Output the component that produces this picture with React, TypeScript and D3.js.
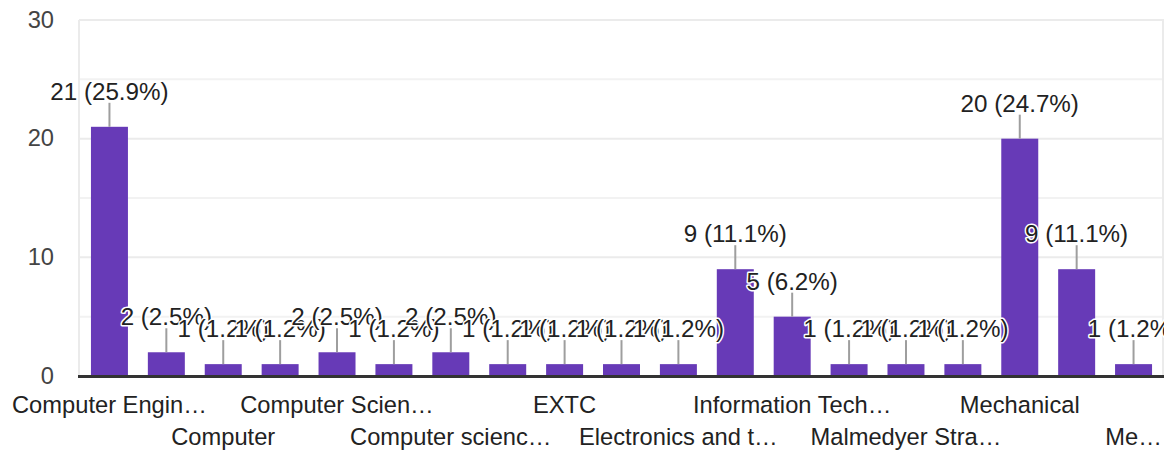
import * as d3 from "d3";

// responses per branch (sorted as in the form summary)
const categories = [
  "Computer Engineering",
  "Computer Engg",
  "Computer",
  "Computer Sci",
  "Computer Science and Engineering",
  "Computer Science",
  "Computer science engineering",
  "Data Science",
  "EXTC",
  "Electrical",
  "Electronics and telecommunication",
  "Information Technology",
  "Information Tech",
  "IT",
  "Malmedyer Strategy",
  "Mech",
  "Mechanical",
  "Mechanical Engineering",
  "Mechatronics",
];
const values = [21, 2, 1, 1, 2, 1, 2, 1, 1, 1, 1, 9, 5, 1, 1, 1, 20, 9, 1];
// only every other category gets a visible (truncated) label
const tickLabels = [
  "Computer Engin…", "", "Computer", "", "Computer Scien…", "",
  "Computer scienc…", "", "EXTC", "", "Electronics and t…", "",
  "Information Tech…", "", "Malmedyer Stra…", "", "Mechanical", "", "Me…",
];
const yTicks = [0, 10, 20, 30];
const yGrid = [5, 10, 15, 20, 25, 30];

const W = 1172;
const H = 453;
const FONT = "'Liberation Sans', Arial, sans-serif";

export default function App() {
  const total = d3.sum(values);
  const x = d3
    .scaleBand<number>()
    .domain(categories.map((_, i) => i))
    .range([81, 1162])
    .paddingInner(0.35)
    .paddingOuter(0.175);
  const y = d3.scaleLinear().domain([0, 30]).range([376, 20]);
  const plotL = 79;
  const plotR = 1164;

  return (
    <svg
      width={W}
      height={H}
      style={{ position: "absolute", left: 0, top: 0, background: "#fff" }}
      fontFamily={FONT}
    >
      <defs>
        <clipPath id="lbl-clip">
          <rect x={0} y={0} width={plotR} height={H} />
        </clipPath>
      </defs>

      {/* grid */}
      {yGrid.map((t) => (
        <line
          key={t}
          x1={plotL}
          x2={plotR}
          y1={y(t)}
          y2={y(t)}
          stroke={t % 10 === 0 ? "#ebebeb" : "#f2f2f2"}
          strokeWidth={2}
        />
      ))}
      <line x1={plotL} x2={plotL} y1={y(30)} y2={y(0)} stroke="#ebebeb" strokeWidth={2} />
      <line x1={plotR - 1} x2={plotR - 1} y1={y(30)} y2={y(0)} stroke="#ebebeb" strokeWidth={2} />

      {/* y tick labels */}
      {yTicks.map((t) => (
        <text
          key={t}
          x={54}
          y={y(t)}
          dy="0.33em"
          textAnchor="end"
          fontSize={23.7}
          fill="#444"
        >
          {t}
        </text>
      ))}

      {/* bars */}
      {values.map((v, i) => (
        <rect
          key={i}
          x={x(i)}
          y={y(v)}
          width={x.bandwidth()}
          height={y(0) - y(v)}
          fill="#673ab7"
        />
      ))}

      {/* baseline */}
      <line x1={plotL - 1} x2={plotR} y1={y(0) + 0.5} y2={y(0) + 0.5} stroke="#333" strokeWidth={3} />

      {/* value labels with leaders */}
      <g clipPath="url(#lbl-clip)">
        {values.map((v, i) => {
          const cx = (x(i) ?? 0) + x.bandwidth() / 2;
          const top = y(v);
          return (
            <g key={i}>
              <line x1={cx} x2={cx} y1={top - 24} y2={top} stroke="#9e9e9e" strokeWidth={2} />
              <text
                x={cx}
                y={top - 27}
                textAnchor="middle"
                fontSize={24.2}
                fill="#222"
                stroke="#fff"
                strokeWidth={3}
                strokeLinejoin="round"
                paintOrder="stroke"
              >
                {`${v} (${((v / total) * 100).toFixed(1)}%)`}
              </text>
            </g>
          );
        })}
      </g>

      {/* category labels, staggered on two rows */}
      {tickLabels.map((lbl, i) => {
        if (!lbl) return null;
        const cx = (x(i) ?? 0) + x.bandwidth() / 2;
        const row = (i / 2) % 2;
        return (
          <text
            key={i}
            x={cx}
            y={row === 0 ? 413 : 445}
            textAnchor="middle"
            fontSize={23.7}
            fill="#222"
          >
            {lbl}
          </text>
        );
      })}
    </svg>
  );
}
